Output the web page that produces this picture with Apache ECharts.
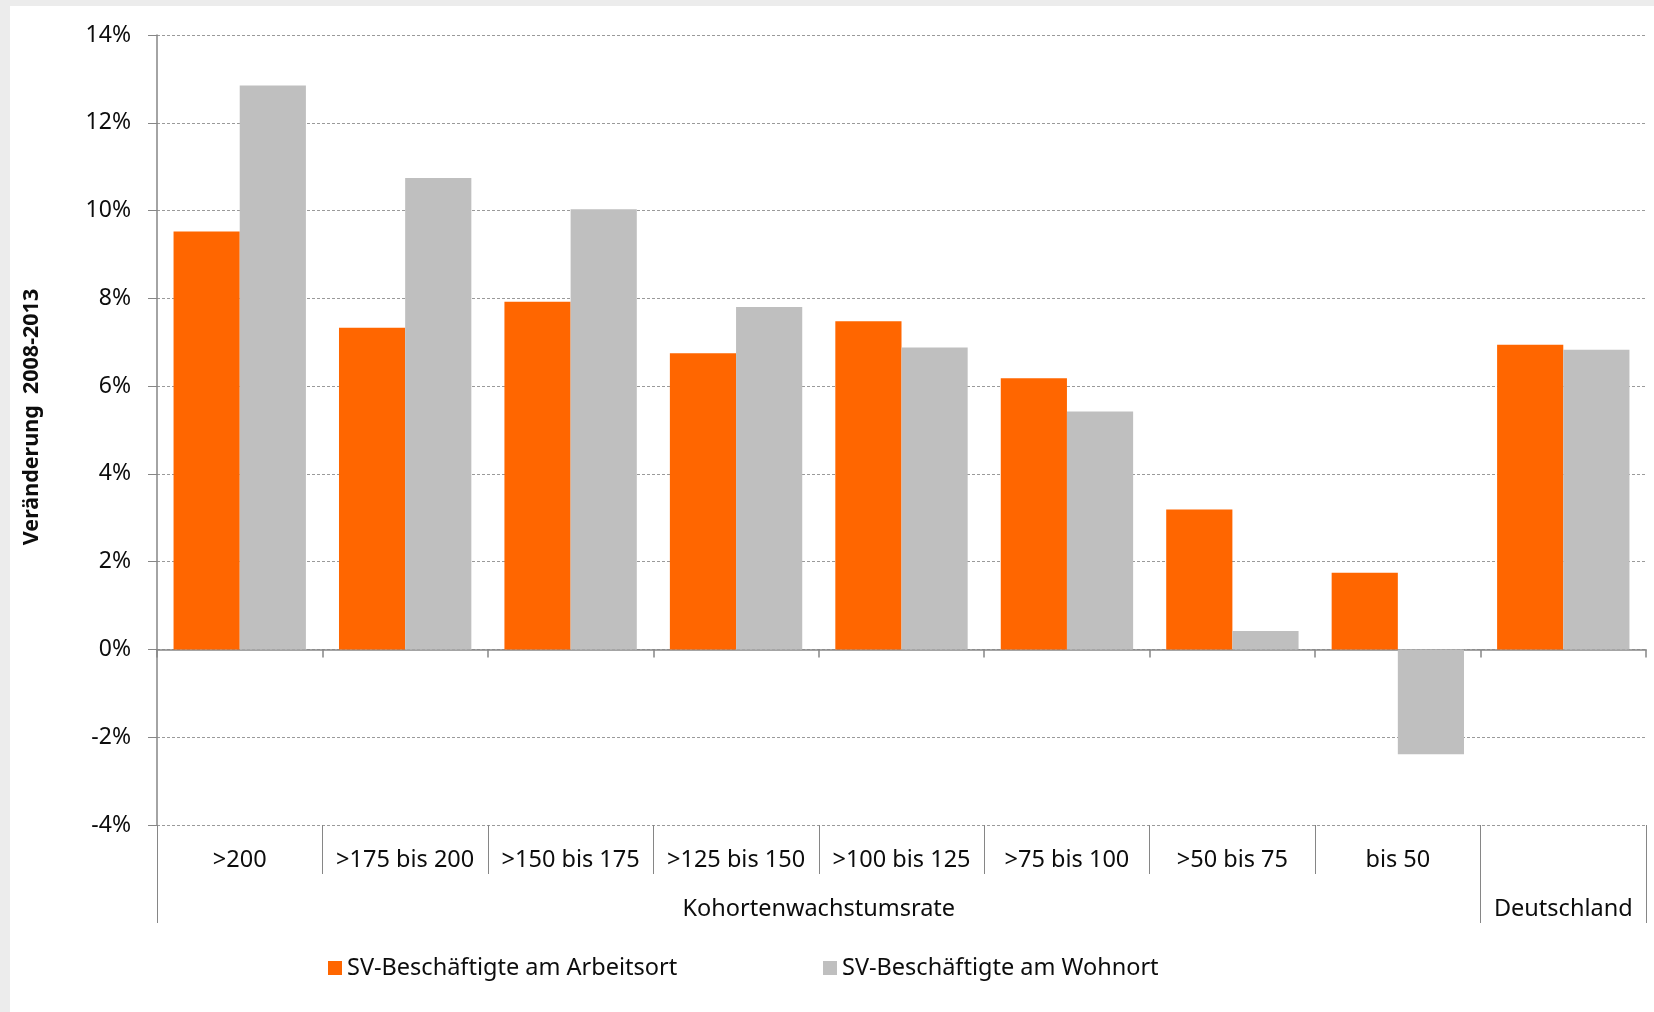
<!DOCTYPE html>
<html>
<head>
<meta charset="utf-8">
<script src="https://cdn.jsdelivr.net/npm/echarts@6/dist/echarts.min.js"></script>
<style>
  html, body { margin: 0; padding: 0; background: #ffffff; }
  #chart { width: 1654px; height: 1012px; }
</style>
</head>
<body>
<div id="chart"></div>
<script>
// ---- data ----
var categories = ['>200', '>175 bis 200', '>150 bis 175', '>125 bis 150', '>100 bis 125', '>75 bis 100', '>50 bis 75', 'bis 50', ''];
var groupLabels = ['Kohortenwachstumsrate', 'Deutschland'];
var groupSpans = [8, 1];
var seriesNames = ['SV-Beschäftigte am Arbeitsort', 'SV-Beschäftigte am Wohnort'];
var arbeitsort = [9.52, 7.33, 7.92, 6.75, 7.48, 6.18, 3.19, 1.75, 6.94];
var wohnort = [12.85, 10.74, 10.03, 7.80, 6.88, 5.42, 0.42, -2.39, 6.83];
var yTicks = { min: -4, max: 14, interval: 2 };
var yTitle = 'Veränderung  2008-2013';

// ---- derived group boundaries / centers ----
var groupBounds = [0];
var groupCenters = [];
groupSpans.forEach(function (s) {
  var start = groupBounds[groupBounds.length - 1];
  groupCenters.push(start + s / 2);
  groupBounds.push(start + s);
});

var FONT = 'Noto Sans';
var TXT = '#0d0d0d';
var AXIS = '#868686';

var chart = echarts.init(document.getElementById('chart'), null, { renderer: 'canvas' });
chart.setOption({
  animation: false,
  backgroundColor: '#ffffff',
  grid: { left: 157, top: 35, right: 8, bottom: 187, containLabel: false },
  graphic: [
    { type: 'rect', left: 0, top: 0, shape: { width: 1654, height: 6 }, style: { fill: '#ececec' } },
    { type: 'rect', left: 0, top: 0, shape: { width: 10, height: 1012 }, style: { fill: '#ececec' } },
    {
      type: 'text', x: 32, y: 417, rotation: Math.PI / 2,
      style: {
        text: yTitle, font: 'bold 21.5px "Noto Sans"', fill: TXT,
        textAlign: 'center', textVerticalAlign: 'middle', verticalAlign: 'middle'
      }
    }
  ],
  legend: [
    {
      data: [seriesNames[0]], left: 328, top: 956, padding: 0,
      icon: 'rect', itemWidth: 14, itemHeight: 14, itemGap: 7,
      textStyle: { fontFamily: FONT, fontSize: 23.5, color: TXT },
      selectedMode: false
    },
    {
      data: [seriesNames[1]], left: 823, top: 956, padding: 0,
      icon: 'rect', itemWidth: 14, itemHeight: 14, itemGap: 7,
      textStyle: { fontFamily: FONT, fontSize: 23.5, color: TXT },
      selectedMode: false
    }
  ],
  xAxis: [
    {
      type: 'category', data: categories, position: 'bottom',
      axisLine: { show: true, onZero: true, lineStyle: { color: AXIS, width: 1.5 } },
      axisTick: { show: true, interval: 0, length: 8, lineStyle: { color: AXIS, width: 1.5 } },
      axisLabel: { show: false },
      splitLine: { show: false }
    },
    {
      type: 'category', data: categories, position: 'bottom',
      axisLine: { show: false, onZero: false },
      axisTick: { show: true, interval: 0, length: 49, lineStyle: { color: AXIS, width: 1 } },
      axisLabel: {
        show: true, interval: 0, margin: 23, hideOverlap: false,
        fontFamily: FONT, fontSize: 23.5, color: TXT
      },
      splitLine: { show: false }
    },
    {
      type: 'value', min: groupBounds[0], max: groupBounds[groupBounds.length - 1], position: 'bottom',
      axisLine: { show: false, onZero: false },
      axisTick: { show: true, customValues: groupBounds, length: 98, lineStyle: { color: AXIS, width: 1 } },
      axisLabel: {
        show: true, customValues: groupCenters, margin: 72,
        fontFamily: FONT, fontSize: 23.5, color: TXT,
        formatter: function (v) {
          var i = groupCenters.indexOf(v);
          return i >= 0 ? groupLabels[i] : '';
        }
      },
      splitLine: { show: false }
    }
  ],
  yAxis: {
    type: 'value', min: yTicks.min, max: yTicks.max, interval: yTicks.interval,
    axisLine: { show: true, onZero: false, lineStyle: { color: AXIS, width: 1.5 } },
    axisTick: { show: true, length: 9, lineStyle: { color: AXIS, width: 1 } },
    axisLabel: {
      margin: 26, fontFamily: FONT, fontSize: 23, color: TXT, padding: [5, 0, 0, 0],
      formatter: '{value}%'
    },
    splitLine: { show: true, lineStyle: { color: '#9a9a9a', type: [3, 2], width: 1 } }
  },
  series: [
    {
      name: seriesNames[0], type: 'bar', data: arbeitsort, xAxisIndex: 0, yAxisIndex: 0,
      barGap: '0%', barCategoryGap: '20%',
      itemStyle: { color: '#FF6600' }
    },
    {
      name: seriesNames[1], type: 'bar', data: wohnort, xAxisIndex: 0, yAxisIndex: 0,
      barGap: '0%', barCategoryGap: '20%',
      itemStyle: { color: '#BFBFBF' }
    }
  ]
});
</script>
</body>
</html>
